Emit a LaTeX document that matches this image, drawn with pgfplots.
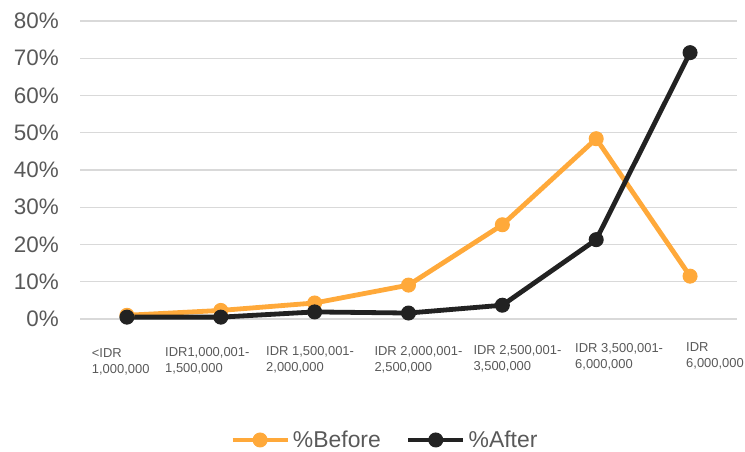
\documentclass[border=0pt]{standalone}
\usepackage{pgfplots}
\pgfplotsset{compat=1.18}
\usepackage{fontspec}
\setmainfont{Liberation Sans}
\definecolor{cBefore}{HTML}{FFA93A}
\definecolor{cAfter}{HTML}{222222}
\definecolor{cGrid}{HTML}{D9D9D9}
\definecolor{cText}{HTML}{595959}
\begin{document}
\begin{tikzpicture}
\useasboundingbox (0bp,0bp) rectangle (745bp,452bp);
\begin{axis}[
  at={(80bp,133bp)}, anchor=south west,
  scale only axis, width=657bp, height=298bp,
  xmin=-0.5, xmax=6.5, ymin=0, ymax=80,
  ytick={0,10,...,80},
  yticklabel={\pgfmathprintnumber{\tick}\%},
  xtick=\empty,
  axis line style={draw=none},
  major tick length=0pt,
  ymajorgrids, grid style={cGrid, line width=1.3bp},
  yticklabel style={font=\fontsize{22.5}{27}\selectfont, text=cText, anchor=east, inner sep=0pt, xshift=-21bp},
  /pgf/number format/assume math mode=true,
  clip=false,
  legend columns=2,
  legend style={draw=none, fill=none, at={(axis description cs:0.2283,-0.406)}, anchor=west,
    inner sep=0pt, font=\fontsize{23}{27}\selectfont, text=cText, nodes={inner sep=0pt},
    /tikz/every odd column/.append style={column sep=3bp},
    /tikz/every even column/.append style={column sep=25bp}},
  legend image code/.code={\draw[mark repeat=2, mark phase=2] plot coordinates {(0bp,0bp) (27.5bp,0bp) (55bp,0bp)};},
]
\addplot[cBefore, line width=4.8bp, mark=*, mark size=7bp, mark options={solid, fill=cBefore, draw=cBefore, line width=1bp}]
  coordinates {(0,1.0) (1,2.3) (2,4.3) (3,9.1) (4,25.3) (5,48.4) (6,11.5)};
\addplot[cAfter, line width=4.8bp, mark=*, mark size=7bp, mark options={solid, fill=cAfter, draw=cAfter, line width=1bp}]
  coordinates {(0,0.5) (1,0.5) (2,1.9) (3,1.6) (4,3.7) (5,21.3) (6,71.5)};
\legend{\%Before, \%After}
\end{axis}
\tikzset{xl/.style={anchor=base west, inner sep=0pt, font=\fontsize{13}{15}\selectfont, text=cText}}
\node[xl] at (91.7bp,94.5bp) {<IDR};
\node[xl] at (91.7bp,78.5bp) {1,000,000};
\node[xl] at (165bp,95.5bp) {IDR1,000,001-};
\node[xl] at (165bp,79.5bp) {1,500,000};
\node[xl] at (266bp,96.3bp) {IDR 1,500,001-};
\node[xl] at (266bp,80.3bp) {2,000,000};
\node[xl] at (374.3bp,96.3bp) {IDR 2,000,001-};
\node[xl] at (374.3bp,80.3bp) {2,500,000};
\node[xl] at (473.3bp,97.3bp) {IDR 2,500,001-};
\node[xl] at (473.3bp,81.3bp) {3,500,000};
\node[xl] at (575bp,99bp) {IDR 3,500,001-};
\node[xl] at (575bp,83bp) {6,000,000};
\node[xl] at (686bp,100.8bp) {IDR};
\node[xl] at (686bp,84.8bp) {6,000,000};
\end{tikzpicture}
\end{document}
